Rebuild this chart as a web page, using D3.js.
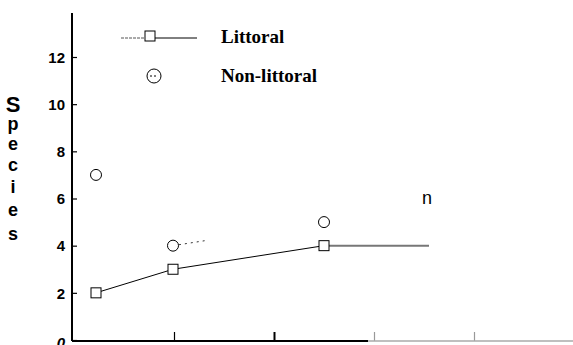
<!DOCTYPE html>
<html>
<head>
<meta charset="utf-8">
<script src="https://cdn.jsdelivr.net/npm/d3@7"></script>
<style>
  body { margin: 0; background: #fff; }
  svg { display: block; }
</style>
</head>
<body>
<svg id="chart" width="573" height="345"></svg>
<script>
// data
var xPos = [0.22, 0.99, 2.5];
var littoral = [2, 3, 4];
var nonLittoral = [7, 4, 5];
var littoralTail = [[2.5, 4], [3.55, 4]];
var yTicks = [0, 2, 4, 6, 8, 10, 12];
var xTicks = [1, 2, 3, 4];
var axisLetters = ["S", "p", "e", "c", "i", "e", "s"];
var letterBase = [112, 130, 150, 171, 193, 216, 240];

var svg = d3.select("#chart");

var x = d3.scaleLinear().domain([0, 5]).range([74, 574]);
var y = d3.scaleLinear().domain([0, 12]).range([340, 57]);

// y axis, ticks point inward
var yAxis = d3.axisLeft(y)
  .tickValues(yTicks)
  .tickSizeInner(-5)
  .tickSizeOuter(0)
  .tickPadding(7);

var gy = svg.append("g")
  .attr("transform", "translate(72,0)")
  .call(yAxis);
gy.select(".domain").remove();
gy.selectAll("line").attr("stroke", "#000").attr("stroke-width", 1.2);
gy.selectAll("text")
  .attr("fill", "#000")
  .style("font-family", "Liberation Sans, Arial, sans-serif")
  .style("font-weight", "bold")
  .style("font-size", "15px")
  .style("font-style", function(d) { return d === 0 ? "italic" : "normal"; })
  .attr("dy", function(d) { return d === 0 ? "0.5em" : "0.35em"; });

svg.append("line")
  .attr("x1", 72).attr("x2", 72)
  .attr("y1", 13).attr("y2", y(0) + 1)
  .attr("stroke", "#000").attr("stroke-width", 2);

// x axis, no labels
var xAxis = d3.axisBottom(x)
  .tickValues(xTicks)
  .tickSizeInner(-9)
  .tickSizeOuter(0)
  .tickFormat("");

var gx = svg.append("g")
  .attr("transform", "translate(0," + (y(0) + 1) + ")")
  .call(xAxis);
gx.select(".domain").remove();
gx.selectAll("line")
  .attr("stroke", function(d) { return d <= 2 ? "#000" : "#999"; })
  .attr("stroke-width", function(d) { return d === 2 ? 2 : 1.2; });

svg.append("line")
  .attr("x1", 72).attr("x2", x(2.94))
  .attr("y1", y(0) + 1).attr("y2", y(0) + 1)
  .attr("stroke", "#000").attr("stroke-width", 2);
svg.append("line")
  .attr("x1", x(2.94)).attr("x2", 573)
  .attr("y1", y(0) + 1).attr("y2", y(0) + 1)
  .attr("stroke", "#aaa").attr("stroke-width", 1.5);

// Species, letters stacked
svg.append("g").selectAll("text")
  .data(axisLetters)
  .enter()
  .append("text")
  .attr("x", 13)
  .attr("y", function(d, i) { return letterBase[i]; })
  .attr("text-anchor", "middle")
  .attr("fill", "#000")
  .style("font-family", "Liberation Sans, Arial, sans-serif")
  .style("font-size", function(d, i) { return i === 0 ? "22px" : "18px"; })
  .style("font-weight", "bold")
  .text(function(d) { return d; });

// littoral line
var line = d3.line()
  .x(function(d) { return x(d[0]); })
  .y(function(d) { return y(d[1]); });

var litPts = xPos.map(function(v, i) { return [v, littoral[i]]; });
var nonPts = xPos.map(function(v, i) { return [v, nonLittoral[i]]; });

svg.append("path")
  .attr("d", line(littoralTail))
  .attr("fill", "none")
  .attr("stroke", "#777")
  .attr("stroke-width", 2);

svg.append("path")
  .attr("d", line(litPts))
  .attr("fill", "none")
  .attr("stroke", "#000")
  .attr("stroke-width", 1);

// non-littoral: faint dotted piece leaving the middle point
svg.append("path")
  .attr("d", line(nonPts.slice(1, 3)))
  .attr("fill", "none")
  .attr("stroke", "#333")
  .attr("stroke-width", 1)
  .attr("stroke-dasharray", "2,4,2,4,2,4,2,4,2,4,2,4,0,1000");

svg.selectAll(".sq")
  .data(litPts)
  .enter()
  .append("rect")
  .attr("class", "sq")
  .attr("x", function(d) { return x(d[0]) - 5; })
  .attr("y", function(d) { return y(d[1]) - 5; })
  .attr("width", 10)
  .attr("height", 10)
  .attr("fill", "#fff")
  .attr("stroke", "#000")
  .attr("stroke-width", 1);

svg.selectAll(".ci")
  .data(nonPts)
  .enter()
  .append("circle")
  .attr("class", "ci")
  .attr("cx", function(d) { return x(d[0]); })
  .attr("cy", function(d) { return y(d[1]); })
  .attr("r", 5.5)
  .attr("fill", "#fff")
  .attr("stroke", "#000")
  .attr("stroke-width", 1);

svg.append("text")
  .attr("x", 427)
  .attr("y", 204)
  .attr("text-anchor", "middle")
  .attr("fill", "#000")
  .style("font-family", "Liberation Sans, Arial, sans-serif")
  .style("font-size", "18px")
  .text("n");

// legend
var legend = svg.append("g");
legend.append("line")
  .attr("x1", 121).attr("x2", 145).attr("y1", 38).attr("y2", 38)
  .attr("stroke", "#555").attr("stroke-width", 1).attr("stroke-dasharray", "3,1");
legend.append("line")
  .attr("x1", 155).attr("x2", 197).attr("y1", 38).attr("y2", 38)
  .attr("stroke", "#000").attr("stroke-width", 1);
legend.append("rect")
  .attr("x", 145).attr("y", 31).attr("width", 10).attr("height", 10)
  .attr("fill", "#fff").attr("stroke", "#000");
legend.append("circle")
  .attr("cx", 154).attr("cy", 76).attr("r", 7)
  .attr("fill", "#fff").attr("stroke", "#000");
legend.append("line")
  .attr("x1", 150).attr("x2", 158).attr("y1", 76).attr("y2", 76)
  .attr("stroke", "#000").attr("stroke-dasharray", "2,2");

legend.selectAll(".lt")
  .data(["Littoral", "Non-littoral"])
  .enter()
  .append("text")
  .attr("x", 221)
  .attr("y", function(d, i) { return 43 + i * 39; })
  .attr("fill", "#000")
  .style("font-family", "Liberation Serif, Times New Roman, serif")
  .style("font-weight", "bold")
  .style("font-size", "19px")
  .text(function(d) { return d; });
</script>
</body>
</html>
